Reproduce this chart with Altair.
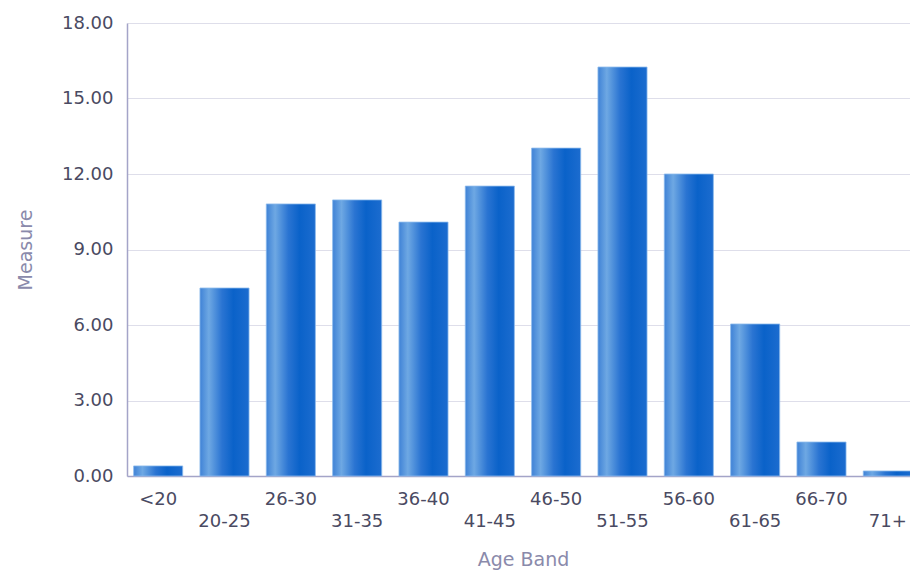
import altair as alt
import pandas as pd

categories = ["<20", "20-25", "26-30", "31-35", "36-40", "41-45",
              "46-50", "51-55", "56-60", "61-65", "66-70", "71+"]
values = [0.40, 7.47, 10.81, 10.97, 10.09, 11.52, 13.03, 16.25, 12.00, 6.04, 1.35, 0.20]
y_ticks = [0, 3, 6, 9, 12, 15, 18]

df = pd.DataFrame({"Age Band": categories, "Measure": values})

cat_list = "[" + ",".join("'%s'" % c for c in categories) + "]"
label_expr = "indexof(%s, datum.value) %% 2 ? ['', datum.label] : datum.label" % cat_list

grad = alt.Gradient(
    gradient="linear",
    stops=[
        alt.GradientStop(color="#3f82d6", offset=0),
        alt.GradientStop(color="#6ea8e3", offset=0.18),
        alt.GradientStop(color="#2a74d2", offset=0.45),
        alt.GradientStop(color="#0a62c9", offset=0.68),
        alt.GradientStop(color="#1c6ccf", offset=1),
    ],
    x1=0, x2=1, y1=0, y2=0,
)

chart = alt.Chart(df).mark_bar(
    color=grad, stroke="#8dbbec", strokeWidth=0.8
).encode(
    x=alt.X("Age Band:N", sort=categories,
            scale=alt.Scale(range=[0, 792], paddingInner=0.26, paddingOuter=0.1),
            axis=alt.Axis(labelAngle=0, labelExpr=label_expr, ticks=False,
                          labelPadding=14, labelLineHeight=22,
                          titlePadding=20)),
    y=alt.Y("Measure:Q", scale=alt.Scale(domain=[0, 18], nice=False),
            axis=alt.Axis(values=y_ticks, format=".2f", ticks=False,
                          labelPadding=14, titlePadding=26)),
).properties(
    width=783, height=453,
    autosize=alt.AutoSizeParams(type="none"),
    padding={"left": 119, "top": 15, "right": 0, "bottom": 100},
).configure_view(
    stroke=None
).configure_axis(
    labelFont="DejaVu Sans", labelFontSize=18, labelColor="#4a4a62",
    titleFont="DejaVu Sans", titleFontSize=19, titleColor="#8a8aab",
    titleFontWeight="normal",
    domainColor="#a4a4c8", domainWidth=1.5,
    gridColor="#dedeea", gridWidth=1.2,
).configure_axisX(
    grid=False
)

chart.save("out.html", embed_options={"renderer": "svg", "actions": False})
